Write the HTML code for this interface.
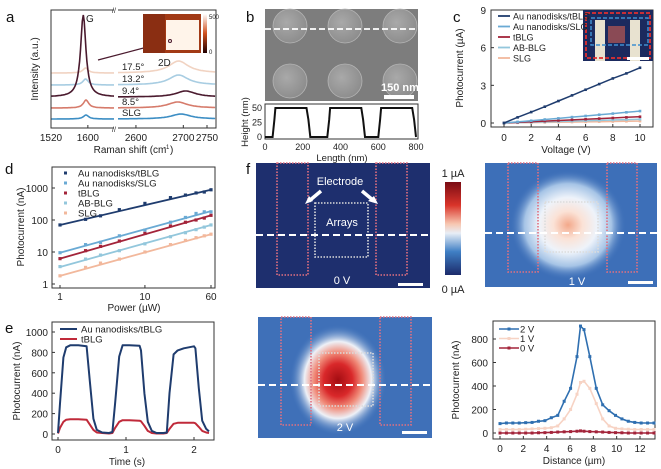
<!DOCTYPE html>
<html><head><meta charset="utf-8"><style>
body{margin:0;background:#fff;}
svg{display:block;font-family:"Liberation Sans Narrow","Liberation Sans",sans-serif;}
</style></head><body>
<svg id="fig" width="661" height="469" viewBox="0 0 661 469" xmlns="http://www.w3.org/2000/svg">
<defs>
<linearGradient id="cbar" x1="0" y1="0" x2="0" y2="1">
<stop offset="0" stop-color="#7a0c14"/><stop offset="0.25" stop-color="#d9342a"/><stop offset="0.45" stop-color="#f7c6b0"/><stop offset="0.55" stop-color="#e8eef6"/><stop offset="0.75" stop-color="#3f7fc4"/><stop offset="1" stop-color="#1c2a6a"/></linearGradient>
<radialGradient id="hot1" cx="0.5" cy="0.5" r="0.5"><stop offset="0" stop-color="#f3a88a"/><stop offset="0.25" stop-color="#fbe2d6"/><stop offset="0.5" stop-color="#eef3fa"/><stop offset="0.75" stop-color="#a6c4e6"/><stop offset="1" stop-color="#3d6fb8" stop-opacity="0"/></radialGradient>
<radialGradient id="hot2" cx="0.5" cy="0.5" r="0.5"><stop offset="0" stop-color="#a40d12"/><stop offset="0.3" stop-color="#d9282a"/><stop offset="0.5" stop-color="#f08a78"/><stop offset="0.7" stop-color="#eef1f7"/><stop offset="1" stop-color="#4a7cc0" stop-opacity="0"/></radialGradient>
<radialGradient id="sem" cx="0.4" cy="0.4" r="0.6"><stop offset="0" stop-color="#a9a9a9"/><stop offset="1" stop-color="#8e8e8e"/></radialGradient>
</defs>
<g id="root"></g>
</svg>
<script>
// ---------- data ----------
const ramanLabels=["17.5°","13.2°","9.4°","8.5°","SLG"];
const ramanGHeights=[5,6,82,8,4];
const ramanGPos=[1595,1595,1590,1596,1596];
const ramanDHeights=[12,10,6,6,5];
const ramanDPos=[2690,2690,2705,2688,2695];
const heightX=[0,40,50,55,220,230,240,330,340,345,510,520,530,600,610,615,780,790,800];
const heightY=[0,0,30,50,50,30,0,0,30,50,50,30,0,0,30,50,50,30,0];
const cVolt=[0,1,2,3,4,5,6,7,8,9,10];
const cAuT=[0,0.45,0.87,1.3,1.75,2.2,2.65,3.1,3.55,3.95,4.4];
const cAuS=[0,0.09,0.18,0.28,0.37,0.47,0.56,0.66,0.75,0.85,0.95];
const cT=[0,0.05,0.1,0.15,0.2,0.25,0.3,0.35,0.4,0.45,0.5];
const cAB=[0,0.03,0.06,0.09,0.12,0.15,0.18,0.21,0.24,0.27,0.3];
const cSLG=[0,0.015,0.03,0.045,0.06,0.075,0.09,0.105,0.12,0.135,0.15];
const dPow=[1,2,3,5,10,20,30,40,50,60];
const dAuT=[70,105,135,210,330,500,600,700,750,880];
const dAuS=[9.5,17,20,32,48,85,120,160,180,180];
const dT=[6.2,11,15,22,38,65,85,100,115,140];
const dAB=[3.5,6,8,11,18,30,40,50,60,70];
const dSLG=[1.8,3.3,4.5,6,10,17,23,28,32,36];
const dFitStart=[70,9.5,6.2,3.4,1.8];
const dFitEnd=[880,190,140,70,36];
const eTime=[0,0.03,0.08,0.12,0.18,0.3,0.42,0.47,0.52,0.57,0.65,0.75,0.8,0.84,0.9,0.95,1.05,1.2,1.22,1.27,1.32,1.38,1.45,1.55,1.6,1.64,1.7,1.76,1.85,2.0,2.02,2.07,2.12,2.18,2.22];
const eAuT=[10,300,750,850,870,870,860,500,150,40,15,10,20,300,760,870,870,865,820,400,120,30,10,10,15,400,780,820,840,860,840,450,130,50,25];
const eT=[5,60,120,140,145,145,140,90,40,15,10,5,10,60,120,135,135,130,125,80,30,10,5,5,10,50,100,110,110,110,105,70,30,15,10];
const fDist=[0,0.55,1.1,1.65,2.2,2.75,3.3,3.85,4.4,4.95,5.5,6.05,6.6,6.9,7.2,7.7,8.25,8.8,9.35,9.9,10.45,11,11.55,12.1,12.65,13.2];
const f2V=[80,85,85,85,88,90,100,105,130,150,270,380,650,910,880,650,380,240,190,150,120,100,90,85,85,85];
const f1V=[30,30,30,30,32,35,38,40,45,60,120,200,330,430,440,380,250,120,60,40,35,32,30,30,30,30];
const f0V=[0,0,0,0,0,0,2,3,5,8,10,12,15,18,15,12,10,8,5,3,2,0,0,0,0,0];

// ---------- helpers ----------
const NS="http://www.w3.org/2000/svg";
const root=document.getElementById('root');
function el(tag,attrs,parent){const e=document.createElementNS(NS,tag);for(const k in attrs)e.setAttribute(k,attrs[k]);(parent||root).appendChild(e);return e;}
function txt(x,y,s,size,attrs,parent){const t=el('text',Object.assign({x:x,y:y,'font-size':size,fill:'#222'},attrs||{}),parent);t.textContent=s;return t;}
function lin(d0,d1,r0,r1){return v=>r0+(v-d0)/(d1-d0)*(r1-r0);}
function logs(d0,d1,r0,r1){return v=>r0+(Math.log10(v)-Math.log10(d0))/(Math.log10(d1)-Math.log10(d0))*(r1-r0);}
function poly(xs,ys,sx,sy){return xs.map((x,i)=>sx(x).toFixed(1)+','+sy(ys[i]).toFixed(1)).join(' ');}

// panel labels
[["a",6,22],["b",246,22],["c",453,22],["d",5,174],["e",5,333],["f",246,174]].forEach(p=>{
 const t=txt(p[1],p[2],p[0],15,{fill:'#111'});
 
 
});

// ---------- panel a ----------
(function(){
 const g=el('g',{});
 
 
 const sxL=lin(1520,1660,51,115.5), sxR=lin(2560,2769,117,216);
 const base=[73,85,97,108,119];
 const cols=["#f1d3c2","#a8cde2","#4a1a2e","#d67b6b","#3d8ec4"];
 ramanLabels.forEach((lab,i)=>{
  let pts=[];
  for(let w=1520;w<=1660;w+=2){const dg=(w-ramanGPos[i])/7;pts.push(sxL(w).toFixed(1)+','+(base[i]-ramanGHeights[i]/(1+dg*dg)).toFixed(1));}
  const p=el('polyline',{points:pts.join(' '),fill:'none',stroke:cols[i],'stroke-width':1.6},g);
  
  
  pts=[];
  for(let w=2560;w<=2769;w+=3){const dd=(w-ramanDPos[i])/25;pts.push(sxR(w).toFixed(1)+','+(base[i]-ramanDHeights[i]/(1+dd*dd)).toFixed(1));}
  const q=el('polyline',{points:pts.join(' '),fill:'none',stroke:cols[i],'stroke-width':1.6},g);
  
  
  const t=txt(122,base[i]-3,lab,9.5,{},g);
  
  
 });
 el('rect',{x:51,y:10,width:165,height:118,fill:'none',stroke:'#333','stroke-width':1},g);
 el('rect',{x:114,y:8,width:4,height:122,fill:'#fff'},g);
 txt(112,13,'//',7,{},g);txt(112,132,'//',7,{},g);
 [[1520,sxL],[1600,sxL],[2600,sxR],[2700,sxR],[2750,sxR]].forEach(t=>{const x=t[1](t[0]);el('line',{x1:x,y1:128,x2:x,y2:125,stroke:'#333'},g);txt(x,141,t[0],10,{'text-anchor':'middle'},g);});
 txt(130,153,'Raman shift (cm',10,{'text-anchor':'middle'},g);txt(164,149,'-1',6,{},g);txt(170,153,')',10,{},g);
 txt(0,0,'Intensity (a.u.)',10,{transform:'translate(38,69) rotate(-90)','text-anchor':'middle'},g);
 txt(86,22,'G',10,{},g);txt(158,66,'2D',10,{},g);
 el('line',{x1:98,y1:60,x2:170,y2:41,stroke:'#4a1a2e','stroke-width':1.2},g);
 el('rect',{x:143,y:14,width:58,height:39,fill:'#a23a16'},g);
 el('rect',{x:143,y:14,width:22,height:39,fill:'#8a2e12'},g);
 el('rect',{x:166,y:20,width:33,height:30,fill:'#fff4ea'},g);
 el('circle',{cx:170,cy:41,r:1.5,fill:'none',stroke:'#4a1a2e'},g);
 const lg=el('linearGradient',{id:'incb',x1:0,y1:0,x2:0,y2:1});
 el('stop',{offset:0,'stop-color':'#fff'},lg);el('stop',{offset:0.5,'stop-color':'#d0501e'},lg);el('stop',{offset:1,'stop-color':'#200'},lg);
 el('rect',{x:203,y:14,width:4,height:39,fill:'url(#incb)'},g);
 txt(209,19,'500',6,{},g);txt(209,54,'0',6,{},g);
})();

// ---------- panel b ----------
(function(){
 const g=el('g',{});
 
 
 el('rect',{x:265,y:9,width:153,height:92,fill:'#7d7d7d'},g);
 [[290,26],[345,26],[400,26],[290,81],[345,81],[400,81]].forEach(c=>el('circle',{cx:c[0],cy:c[1],r:17,fill:'url(#sem)',stroke:'#b5b5b5','stroke-width':0.8},g));
 el('line',{x1:265,y1:29,x2:418,y2:29,stroke:'#fff','stroke-width':1.8,'stroke-dasharray':'6,3'},g);
 txt(381,91,'150 nm',11,{fill:'#fff','font-weight':'bold'},g);
 el('rect',{x:384,y:95,width:30,height:4,fill:'#fff'},g);
 const h=el('g',{});
 
 
 const sx=lin(0,800,265,416), sy=lin(0,50,137,108);
 el('rect',{x:265,y:104,width:153,height:35,fill:'#fff',stroke:'#333'},h);
 const p=el('polyline',{points:poly(heightX,heightY,sx,sy),fill:'none',stroke:'#111','stroke-width':2},h);
 
 
 [0,25,50].forEach(v=>txt(262,sy(v)+3,v,9,{'text-anchor':'end'},h));
 [0,200,400,600,800].forEach(v=>txt(sx(v),150,v,9,{'text-anchor':'middle'},h));
 txt(342,161,'Length (nm)',9.5,{'text-anchor':'middle'},h);
 txt(0,0,'Height (nm)',9.5,{transform:'translate(248,122) rotate(-90)','text-anchor':'middle'},h);
})();

// ---------- panel c ----------
(function(){
 const g=el('g',{});
 
 
 const sx=lin(0,10,504,640), sy=lin(0,9,123,10);
 el('rect',{x:491,y:10,width:162,height:117,fill:'none',stroke:'#333'},g);
 const series=[[cSLG,'#f2b89c','SLG'],[cAB,'#93c7dc','AB-BLG'],[cT,'#a3243a','tBLG'],[cAuS,'#6aaad4','Au nanodisks/SLG'],[cAuT,'#1f3c6e','Au nanodisks/tBLG']];
 series.forEach(s=>{
  const p=el('polyline',{points:poly(cVolt,s[0],sx,sy),fill:'none',stroke:s[1],'stroke-width':1.5},g);
  
  
  cVolt.forEach((v,i)=>el('rect',{x:sx(v)-1.3,y:sy(s[0][i])-1.3,width:2.6,height:2.6,fill:s[1]},g));
 });
 [0,3,6,9].forEach(v=>{txt(486,sy(v)+4,v,10,{'text-anchor':'end'},g);el('line',{x1:491,x2:494,y1:sy(v),y2:sy(v),stroke:'#333'},g);});
 [0,2,4,6,8,10].forEach(v=>{txt(sx(v),141,v,10,{'text-anchor':'middle'},g);el('line',{x1:sx(v),x2:sx(v),y1:127,y2:124,stroke:'#333'},g);});
 txt(566,153,'Voltage (V)',10,{'text-anchor':'middle'},g);
 txt(0,0,'Photocurrent (µA)',10,{transform:'translate(463,68) rotate(-90)','text-anchor':'middle'},g);
 el('rect',{x:583,y:10,width:70,height:51,fill:'#1b2a5e'},g);
 el('rect',{x:595,y:20,width:10,height:41,fill:'#e8e2d0'},g);
 el('rect',{x:630,y:20,width:10,height:41,fill:'#e8e2d0'},g);
 el('rect',{x:608,y:26,width:17,height:17,fill:'#8a4a55'},g);
 el('rect',{x:586,y:13,width:64,height:45,fill:'none',stroke:'#e03030','stroke-width':1.8,'stroke-dasharray':'4,2'},g);
 el('rect',{x:591,y:18,width:57,height:27,fill:'none',stroke:'#3f8fd0','stroke-width':1.5,'stroke-dasharray':'4,2'},g);
 el('rect',{x:627,y:57,width:22,height:3,fill:'#fff'},g);
 const leg=[['Au nanodisks/tBLG','#1f3c6e'],['Au nanodisks/SLG','#6aaad4'],['tBLG','#a3243a'],['AB-BLG','#93c7dc'],['SLG','#f2b89c']];
 leg.forEach((l,i)=>{const y=16+i*10.5;el('line',{x1:498,x2:510,y1:y,y2:y,stroke:l[1],'stroke-width':1.8},g);
  const t=txt(513,y+3.5,l[0],9,{},g);});
})();

// ---------- panel d ----------
(function(){
 const g=el('g',{});
 
 
 const sx=logs(1,60,60,211), sy=logs(1,1000,284,188);
 el('rect',{x:52,y:167,width:163,height:121,fill:'none',stroke:'#333'},g);
 const series=[[dAuT,'#1f3c6e','Au nanodisks/tBLG'],[dAuS,'#6aaad4','Au nanodisks/SLG'],[dT,'#a3243a','tBLG'],[dAB,'#93c7dc','AB-BLG'],[dSLG,'#f2b89c','SLG']];
 series.forEach((s,k)=>{
  const l=el('line',{x1:sx(1),y1:sy(dFitStart[k]),x2:sx(60),y2:sy(dFitEnd[k]),stroke:s[1],'stroke-width':1.8},g);
  
  
  dPow.forEach((v,i)=>el('rect',{x:sx(v)-1.6,y:sy(s[0][i])-1.6,width:3.2,height:3.2,fill:s[1]},g));
 });
 [[1,'1'],[10,'10'],[100,'100'],[1000,'1000']].forEach(v=>{txt(48,sy(v[0])+4,v[1],10,{'text-anchor':'end'},g);el('line',{x1:52,x2:55,y1:sy(v[0]),y2:sy(v[0]),stroke:'#333'},g);});
 [[1,'1'],[10,'10'],[60,'60']].forEach(v=>{txt(sx(v[0]),300,v[1],10,{'text-anchor':'middle'},g);el('line',{x1:sx(v[0]),x2:sx(v[0]),y1:288,y2:285,stroke:'#333'},g);});
 txt(134,311,'Power (µW)',10,{'text-anchor':'middle'},g);
 txt(0,0,'Photocurrent (nA)',10,{transform:'translate(24,227) rotate(-90)','text-anchor':'middle'},g);
 series.forEach((s,i)=>{const y=173+i*10;el('rect',{x:64,y:y-1.5,width:3,height:3,fill:s[1]},g);
  const t=txt(78,y+3.5,s[2],9.5,{},g);});
})();

// ---------- panel e ----------
(function(){
 const g=el('g',{});
 
 
 const sx=lin(0,2,58,194), sy=lin(0,1000,434,332);
 el('rect',{x:52,y:322,width:162,height:118,fill:'none',stroke:'#333'},g);
 const a=el('polyline',{points:poly(eTime,eT,sx,sy),fill:'none',stroke:'#c02a3a','stroke-width':2,'stroke-linejoin':'round'},g);
 
 
 const b=el('polyline',{points:poly(eTime,eAuT,sx,sy),fill:'none',stroke:'#1f3c6e','stroke-width':2,'stroke-linejoin':'round'},g);
 
 
 [0,200,400,600,800,1000].forEach(v=>{txt(48,sy(v)+4,v,10,{'text-anchor':'end'},g);el('line',{x1:52,x2:55,y1:sy(v),y2:sy(v),stroke:'#333'},g);});
 [0,1,2].forEach(v=>{txt(sx(v),453,v,10,{'text-anchor':'middle'},g);el('line',{x1:sx(v),x2:sx(v),y1:440,y2:437,stroke:'#333'},g);});
 txt(127,465,'Time (s)',10,{'text-anchor':'middle'},g);
 txt(0,0,'Photocurrent (nA)',10,{transform:'translate(20,381) rotate(-90)','text-anchor':'middle'},g);
 [['Au nanodisks/tBLG','#1f3c6e'],['tBLG','#c02a3a']].forEach((l,i)=>{const y=329+i*10;el('line',{x1:60,x2:77,y1:y,y2:y,stroke:l[1],'stroke-width':2},g);
  const t=txt(81,y+3.5,l[0],9.5,{},g);});
})();

// ---------- panel f maps ----------
function map(x,y,w,h,bg,grad,hx,hy,rx,ry,el1,el2,arr,dashY,label,sbx,sby,name){
 const g=el('g',{});
 
 
 el('rect',{x:x,y:y,width:w,height:h,fill:bg},g);
 if(grad) el('ellipse',{cx:hx,cy:hy,rx:rx,ry:ry,fill:grad},g);
 const ds={fill:'none',stroke:'#e07080','stroke-width':1.6,'stroke-dasharray':'1.5,1.5'};
 el('rect',Object.assign({x:el1[0],y:y,width:el1[1]-el1[0],height:el1[2]-y},ds),g);
 el('rect',Object.assign({x:el2[0],y:y,width:el2[1]-el2[0],height:el2[2]-y},ds),g);
 el('rect',{x:arr[0],y:arr[1],width:arr[2]-arr[0],height:arr[3]-arr[1],fill:'none',stroke:'#dcdcdc','stroke-width':1.6,'stroke-dasharray':'1.5,1.5'},g);
 el('line',{x1:x,x2:x+w,y1:dashY,y2:dashY,stroke:'#fff','stroke-width':2,'stroke-dasharray':'7,4'},g);
 txt(label[1],label[2],label[0],11,{fill:'#fff','text-anchor':'middle'},g);
 el('rect',{x:sbx,y:sby,width:25,height:3,fill:'#fff'},g);
 return g;
}
const m0=map(256,163,174,125,'#1e2f6e',null,0,0,0,0,[277,308,275],[376,407,275],[315,203,368,257],235,['0 V',342,284],398,283,'map-0v');
txt(340,185,'Electrode',11,{fill:'#fff','text-anchor':'middle'},m0);
el('path',{d:'M321,191 L309,201 M362,191 L374,201',stroke:'#fff','stroke-width':3.5},m0);
el('path',{d:'M305,204 L309,196 L313,201 Z M378,204 L368,201 L374,196 Z',fill:'#fff'},m0);
txt(342,226,'Arrays',11,{fill:'#fff','text-anchor':'middle'},m0);
const m1=map(485,163,172,124,'#3d6fb8','url(#hot1)',568,225,58,55,[508,538,272],[607,637,272],[545,202,598,252],233,['1 V',577,285],628,281,'map-1v');
const m2=map(258,317,174,121,'#3f70b8','url(#hot2)',338,380,48,55,[281,311,425],[380,411,425],[319,353,373,406],385,['2 V',345,431],402,431,'map-2v');
(function(){
 const g=el('g',{});
 
 
 el('rect',{x:445,y:182,width:16,height:93,fill:'url(#cbar)'},g);
 txt(453,177,'1 µA',11,{'text-anchor':'middle'},g);
 txt(453,293,'0 µA',11,{'text-anchor':'middle'},g);
})();

// ---------- panel f line ----------
(function(){
 const g=el('g',{});
 
 
 const sx=lin(0,12,500,640), sy=lin(0,800,433,339);
 el('rect',{x:493,y:321,width:162,height:118,fill:'none',stroke:'#333'},g);
 const series=[[f0V,'#a3243a','0 V'],[f1V,'#f7d3c4','1 V'],[f2V,'#2f6fb0','2 V']];
 series.forEach(s=>{
  const p=el('polyline',{points:poly(fDist,s[0],sx,sy),fill:'none',stroke:s[1],'stroke-width':1.6},g);
  
  
  fDist.forEach((v,i)=>el('rect',{x:sx(v)-1.5,y:sy(s[0][i])-1.5,width:3,height:3,fill:s[1]},g));
 });
 [0,200,400,600,800].forEach(v=>{txt(488,sy(v)+4,v,10,{'text-anchor':'end'},g);el('line',{x1:493,x2:496,y1:sy(v),y2:sy(v),stroke:'#333'},g);});
 [0,2,4,6,8,10,12].forEach(v=>{txt(sx(v),452,v,10,{'text-anchor':'middle'},g);el('line',{x1:sx(v),x2:sx(v),y1:439,y2:436,stroke:'#333'},g);});
 txt(574,464,'Distance (µm)',10,{'text-anchor':'middle'},g);
 txt(0,0,'Photocurrent (nA)',10,{transform:'translate(459,380) rotate(-90)','text-anchor':'middle'},g);
 [['2 V','#2f6fb0'],['1 V','#f7d3c4'],['0 V','#a3243a']].forEach((l,i)=>{const y=329+i*9.5;el('line',{x1:499,x2:519,y1:y,y2:y,stroke:l[1],'stroke-width':1.6},g);el('rect',{x:507.5,y:y-1.5,width:3,height:3,fill:l[1]},g);
  const t=txt(520,y+3.5,l[0],9.5,{},g);});
})();
</script>
</body></html>
